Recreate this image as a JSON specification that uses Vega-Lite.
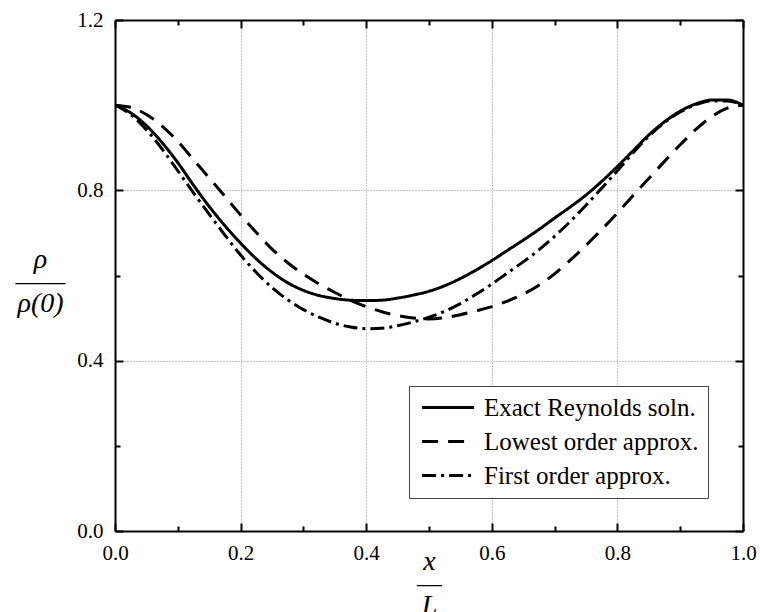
{
  "$schema": "https://vega.github.io/schema/vega-lite/v6.json",
  "width": 628,
  "height": 511,
  "autosize": "none",
  "padding": {"left": 115, "top": 20, "right": 17, "bottom": 81},
  "background": "white",
  "config": {
    "view": {"stroke": null},
    "font": "Liberation Serif",
    "axis": {
      "labelFont": "Liberation Serif",
      "labelFontSize": 21,
      "labelColor": "black",
      "labelFlush": false,
      "labelOverlap": false,
      "titleFont": "Liberation Serif",
      "titleColor": "black",
      "titleFontWeight": "normal",
      "domainColor": "black",
      "domainWidth": 2,
      "tickColor": "black",
      "tickWidth": 2,
      "gridColor": "#888888",
      "gridDash": [1, 2],
      "gridWidth": 1
    }
  },
  "data": {
    "values": [
      {"x": 0.0, "y": 1.0, "s": "Exact Reynolds soln."},
      {"x": 0.025, "y": 0.982, "s": "Exact Reynolds soln."},
      {"x": 0.05, "y": 0.952, "s": "Exact Reynolds soln."},
      {"x": 0.075, "y": 0.912, "s": "Exact Reynolds soln."},
      {"x": 0.1, "y": 0.865, "s": "Exact Reynolds soln."},
      {"x": 0.125, "y": 0.812, "s": "Exact Reynolds soln."},
      {"x": 0.15, "y": 0.762, "s": "Exact Reynolds soln."},
      {"x": 0.175, "y": 0.717, "s": "Exact Reynolds soln."},
      {"x": 0.2, "y": 0.676, "s": "Exact Reynolds soln."},
      {"x": 0.225, "y": 0.639, "s": "Exact Reynolds soln."},
      {"x": 0.25, "y": 0.608, "s": "Exact Reynolds soln."},
      {"x": 0.275, "y": 0.583, "s": "Exact Reynolds soln."},
      {"x": 0.3, "y": 0.565, "s": "Exact Reynolds soln."},
      {"x": 0.325, "y": 0.553, "s": "Exact Reynolds soln."},
      {"x": 0.35, "y": 0.546, "s": "Exact Reynolds soln."},
      {"x": 0.375, "y": 0.542, "s": "Exact Reynolds soln."},
      {"x": 0.4, "y": 0.541, "s": "Exact Reynolds soln."},
      {"x": 0.425, "y": 0.542, "s": "Exact Reynolds soln."},
      {"x": 0.45, "y": 0.547, "s": "Exact Reynolds soln."},
      {"x": 0.475, "y": 0.554, "s": "Exact Reynolds soln."},
      {"x": 0.5, "y": 0.563, "s": "Exact Reynolds soln."},
      {"x": 0.525, "y": 0.576, "s": "Exact Reynolds soln."},
      {"x": 0.55, "y": 0.593, "s": "Exact Reynolds soln."},
      {"x": 0.575, "y": 0.613, "s": "Exact Reynolds soln."},
      {"x": 0.6, "y": 0.635, "s": "Exact Reynolds soln."},
      {"x": 0.625, "y": 0.659, "s": "Exact Reynolds soln."},
      {"x": 0.65, "y": 0.683, "s": "Exact Reynolds soln."},
      {"x": 0.675, "y": 0.708, "s": "Exact Reynolds soln."},
      {"x": 0.7, "y": 0.735, "s": "Exact Reynolds soln."},
      {"x": 0.725, "y": 0.761, "s": "Exact Reynolds soln."},
      {"x": 0.75, "y": 0.789, "s": "Exact Reynolds soln."},
      {"x": 0.775, "y": 0.821, "s": "Exact Reynolds soln."},
      {"x": 0.8, "y": 0.856, "s": "Exact Reynolds soln."},
      {"x": 0.825, "y": 0.893, "s": "Exact Reynolds soln."},
      {"x": 0.85, "y": 0.93, "s": "Exact Reynolds soln."},
      {"x": 0.875, "y": 0.961, "s": "Exact Reynolds soln."},
      {"x": 0.9, "y": 0.986, "s": "Exact Reynolds soln."},
      {"x": 0.925, "y": 1.003, "s": "Exact Reynolds soln."},
      {"x": 0.95, "y": 1.012, "s": "Exact Reynolds soln."},
      {"x": 0.975, "y": 1.012, "s": "Exact Reynolds soln."},
      {"x": 1.0, "y": 1.0, "s": "Exact Reynolds soln."},

      {"x": 0.0, "y": 1.0, "s": "Lowest order approx."},
      {"x": 0.025, "y": 0.995, "s": "Lowest order approx."},
      {"x": 0.05, "y": 0.978, "s": "Lowest order approx."},
      {"x": 0.075, "y": 0.951, "s": "Lowest order approx."},
      {"x": 0.1, "y": 0.915, "s": "Lowest order approx."},
      {"x": 0.125, "y": 0.872, "s": "Lowest order approx."},
      {"x": 0.15, "y": 0.829, "s": "Lowest order approx."},
      {"x": 0.175, "y": 0.786, "s": "Lowest order approx."},
      {"x": 0.2, "y": 0.742, "s": "Lowest order approx."},
      {"x": 0.225, "y": 0.701, "s": "Lowest order approx."},
      {"x": 0.25, "y": 0.662, "s": "Lowest order approx."},
      {"x": 0.275, "y": 0.63, "s": "Lowest order approx."},
      {"x": 0.3, "y": 0.603, "s": "Lowest order approx."},
      {"x": 0.325, "y": 0.58, "s": "Lowest order approx."},
      {"x": 0.35, "y": 0.56, "s": "Lowest order approx."},
      {"x": 0.375, "y": 0.542, "s": "Lowest order approx."},
      {"x": 0.4, "y": 0.527, "s": "Lowest order approx."},
      {"x": 0.425, "y": 0.515, "s": "Lowest order approx."},
      {"x": 0.45, "y": 0.506, "s": "Lowest order approx."},
      {"x": 0.475, "y": 0.5, "s": "Lowest order approx."},
      {"x": 0.5, "y": 0.498, "s": "Lowest order approx."},
      {"x": 0.525, "y": 0.501, "s": "Lowest order approx."},
      {"x": 0.55, "y": 0.508, "s": "Lowest order approx."},
      {"x": 0.575, "y": 0.517, "s": "Lowest order approx."},
      {"x": 0.6, "y": 0.527, "s": "Lowest order approx."},
      {"x": 0.625, "y": 0.54, "s": "Lowest order approx."},
      {"x": 0.65, "y": 0.556, "s": "Lowest order approx."},
      {"x": 0.675, "y": 0.577, "s": "Lowest order approx."},
      {"x": 0.7, "y": 0.604, "s": "Lowest order approx."},
      {"x": 0.725, "y": 0.636, "s": "Lowest order approx."},
      {"x": 0.75, "y": 0.671, "s": "Lowest order approx."},
      {"x": 0.775, "y": 0.708, "s": "Lowest order approx."},
      {"x": 0.8, "y": 0.747, "s": "Lowest order approx."},
      {"x": 0.825, "y": 0.788, "s": "Lowest order approx."},
      {"x": 0.85, "y": 0.828, "s": "Lowest order approx."},
      {"x": 0.875, "y": 0.868, "s": "Lowest order approx."},
      {"x": 0.9, "y": 0.907, "s": "Lowest order approx."},
      {"x": 0.925, "y": 0.943, "s": "Lowest order approx."},
      {"x": 0.95, "y": 0.973, "s": "Lowest order approx."},
      {"x": 0.975, "y": 0.993, "s": "Lowest order approx."},
      {"x": 1.0, "y": 1.0, "s": "Lowest order approx."},

      {"x": 0.0, "y": 1.0, "s": "First order approx."},
      {"x": 0.025, "y": 0.978, "s": "First order approx."},
      {"x": 0.05, "y": 0.942, "s": "First order approx."},
      {"x": 0.075, "y": 0.897, "s": "First order approx."},
      {"x": 0.1, "y": 0.846, "s": "First order approx."},
      {"x": 0.125, "y": 0.794, "s": "First order approx."},
      {"x": 0.15, "y": 0.744, "s": "First order approx."},
      {"x": 0.175, "y": 0.695, "s": "First order approx."},
      {"x": 0.2, "y": 0.648, "s": "First order approx."},
      {"x": 0.225, "y": 0.607, "s": "First order approx."},
      {"x": 0.25, "y": 0.572, "s": "First order approx."},
      {"x": 0.275, "y": 0.543, "s": "First order approx."},
      {"x": 0.3, "y": 0.52, "s": "First order approx."},
      {"x": 0.325, "y": 0.502, "s": "First order approx."},
      {"x": 0.35, "y": 0.488, "s": "First order approx."},
      {"x": 0.375, "y": 0.479, "s": "First order approx."},
      {"x": 0.4, "y": 0.475, "s": "First order approx."},
      {"x": 0.425, "y": 0.476, "s": "First order approx."},
      {"x": 0.45, "y": 0.482, "s": "First order approx."},
      {"x": 0.475, "y": 0.491, "s": "First order approx."},
      {"x": 0.5, "y": 0.502, "s": "First order approx."},
      {"x": 0.525, "y": 0.516, "s": "First order approx."},
      {"x": 0.55, "y": 0.534, "s": "First order approx."},
      {"x": 0.575, "y": 0.556, "s": "First order approx."},
      {"x": 0.6, "y": 0.58, "s": "First order approx."},
      {"x": 0.625, "y": 0.606, "s": "First order approx."},
      {"x": 0.65, "y": 0.632, "s": "First order approx."},
      {"x": 0.675, "y": 0.66, "s": "First order approx."},
      {"x": 0.7, "y": 0.692, "s": "First order approx."},
      {"x": 0.725, "y": 0.727, "s": "First order approx."},
      {"x": 0.75, "y": 0.765, "s": "First order approx."},
      {"x": 0.775, "y": 0.805, "s": "First order approx."},
      {"x": 0.8, "y": 0.846, "s": "First order approx."},
      {"x": 0.825, "y": 0.888, "s": "First order approx."},
      {"x": 0.85, "y": 0.927, "s": "First order approx."},
      {"x": 0.875, "y": 0.959, "s": "First order approx."},
      {"x": 0.9, "y": 0.984, "s": "First order approx."},
      {"x": 0.925, "y": 1.001, "s": "First order approx."},
      {"x": 0.95, "y": 1.01, "s": "First order approx."},
      {"x": 0.975, "y": 1.01, "s": "First order approx."},
      {"x": 1.0, "y": 1.0, "s": "First order approx."}
    ]
  },
  "layer": [
    {
      "mark": {"type": "line", "color": "black", "strokeWidth": 3, "strokeCap": "butt", "interpolate": "monotone", "clip": true},
      "encoding": {
        "x": {
          "field": "x", "type": "quantitative",
          "scale": {"domain": [0, 1], "nice": false, "zero": false},
          "axis": {
            "orient": "bottom",
            "values": [0, 0.2, 0.4, 0.6, 0.8, 1.0],
            "format": ".1f",
            "grid": true,
            "tickSize": -8,
            "labelFont": "Liberation Serif",
            "labelFontSize": 21,
            "labelFlush": false,
            "labelOverlap": false,
            "labelPadding": 19,
            "title": ["x", "—", "L"],
            "titleFont": "Liberation Serif",
            "titleFontSize": 28,
            "titleFontStyle": "italic",
            "titleLineHeight": 22,
            "titleBaseline": "alphabetic",
            "titleY": 38
          }
        },
        "y": {
          "field": "y", "type": "quantitative",
          "scale": {"domain": [0, 1.2], "nice": false, "zero": false},
          "axis": {
            "orient": "left",
            "values": [0, 0.4, 0.8, 1.2],
            "format": ".1f",
            "grid": true,
            "tickSize": -8,
            "labelFont": "Liberation Serif",
            "labelFontSize": 21,
            "labelFlush": false,
            "labelOverlap": false,
            "labelPadding": 20,
            "title": ["ρ", "——", "ρ(0)"],
            "titleFont": "Liberation Serif",
            "titleFontSize": 28,
            "titleFontStyle": "italic",
            "titleAngle": 0,
            "titleAlign": "center",
            "titleBaseline": "alphabetic",
            "titleLineHeight": 22,
            "titleX": -75,
            "titleY": 247
          }
        },
        "strokeDash": {
          "field": "s", "type": "nominal",
          "scale": {
            "domain": ["Exact Reynolds soln.", "Lowest order approx.", "First order approx."],
            "range": [[1, 0], [16, 10], [14, 5, 3, 5]]
          },
          "legend": {
            "title": null,
            "orient": "none",
            "legendX": 294,
            "legendY": 366,
            "direction": "vertical",
            "fillColor": "white",
            "strokeColor": "#444444",
            "padding": 9,
            "symbolType": "M-1,0H4",
            "symbolSize": 433,
            "symbolOffset": 2,
            "symbolStrokeWidth": 3,
            "symbolStrokeColor": "black",
            "labelFont": "Liberation Serif",
            "labelFontSize": 25,
            "labelColor": "black",
            "labelOffset": 39,
            "labelLimit": 400,
            "rowPadding": 8
          }
        }
      }
    },
    {
      "mark": {"type": "line", "opacity": 0},
      "encoding": {
        "x": {
          "field": "x", "type": "quantitative",
          "axis": {"orient": "bottom", "values": [0.1, 0.3, 0.5, 0.7, 0.9], "labels": false, "domain": false, "grid": false, "tickSize": -5, "title": null}
        },
        "y": {
          "field": "y", "type": "quantitative",
          "axis": {"orient": "left", "values": [0.2, 0.6, 1.0], "labels": false, "domain": false, "grid": false, "tickSize": -5, "title": null}
        }
      }
    },
    {
      "mark": {"type": "line", "opacity": 0},
      "encoding": {
        "x": {
          "field": "x", "type": "quantitative",
          "axis": {"orient": "top", "values": [0, 0.2, 0.4, 0.6, 0.8, 1.0], "labels": false, "grid": false, "tickSize": -8, "title": null}
        },
        "y": {
          "field": "y", "type": "quantitative",
          "axis": {"orient": "right", "values": [0, 0.4, 0.8, 1.2], "labels": false, "grid": false, "tickSize": -8, "title": null}
        }
      }
    },
    {
      "mark": {"type": "line", "opacity": 0},
      "encoding": {
        "x": {
          "field": "x", "type": "quantitative",
          "axis": {"orient": "top", "values": [0.1, 0.3, 0.5, 0.7, 0.9], "labels": false, "domain": false, "grid": false, "tickSize": -5, "title": null}
        },
        "y": {
          "field": "y", "type": "quantitative",
          "axis": {"orient": "right", "values": [0.2, 0.6, 1.0], "labels": false, "domain": false, "grid": false, "tickSize": -5, "title": null}
        }
      }
    }
  ],
  "resolve": {"axis": {"x": "independent", "y": "independent"}}
}
